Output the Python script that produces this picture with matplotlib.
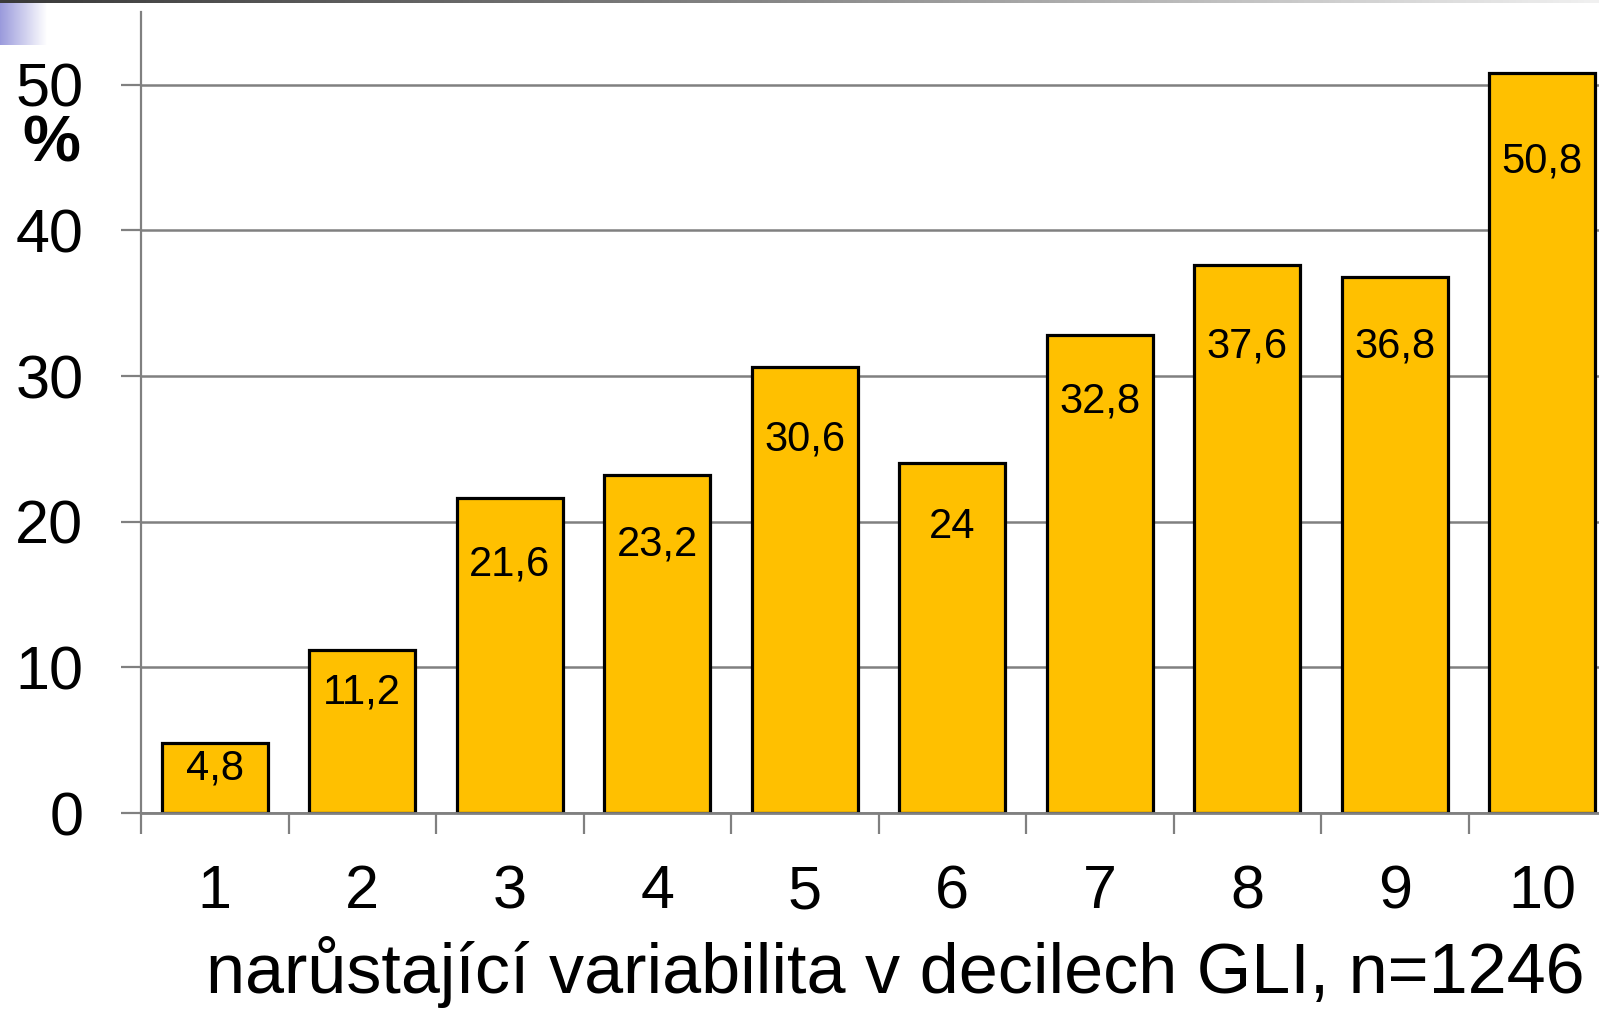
import numpy as np
import matplotlib
matplotlib.use('Agg')
import matplotlib.pyplot as plt

plt.rcParams['font.family'] = ['Liberation Sans', 'DejaVu Sans']

# data
deciles = ['1', '2', '3', '4', '5', '6', '7', '8', '9', '10']
values = [4.8, 11.2, 21.6, 23.2, 30.6, 24, 32.8, 37.6, 36.8, 50.8]
value_labels = ['4,8', '11,2', '21,6', '23,2', '30,6', '24', '32,8', '37,6', '36,8', '50,8']
# baseline of each value label, in axis units (as placed in the original slide)
label_y = [2.3, 7.5, 16.3, 17.7, 24.9, 18.9, 27.5, 31.3, 31.3, 44.0]
yticks = [0, 10, 20, 30, 40, 50]
xlabel = 'narůstající variabilita v decilech GLI, n=1246'

W, H = 1599, 1009
fig = plt.figure(figsize=(W / 100, H / 100), dpi=100)

# slide decoration: gradient line at the top and small blue square
top = fig.add_axes([0, 1 - 3 / H, 1, 3 / H])
grad = np.linspace(0, 1, 256).reshape(1, -1)
top.imshow(grad, aspect='auto', cmap=matplotlib.colors.LinearSegmentedColormap.from_list(
    'top', ['#3a3a3a', '#8a8a8a', '#f0f0f0']))
top.axis('off')
sq = fig.add_axes([0, 1 - 45 / H, 47 / W, 42 / H])
sq.imshow(grad, aspect='auto', cmap=matplotlib.colors.LinearSegmentedColormap.from_list(
    'sq', ['#9a9adc', '#ffffff']))
sq.axis('off')

ax = fig.add_axes([141 / W, 1 - 813 / H, 1475 / W, 801 / H])
x = np.arange(1, len(values) + 1)
ax.bar(x, values, width=0.72, color='#FFC000', edgecolor='black', linewidth=2.3, zorder=2)

for xi, lab, ly in zip(x, value_labels, label_y):
    ax.text(xi, ly, lab, ha='center', va='baseline', fontsize=30, color='black', zorder=3)

ax.set_xlim(0.5, len(values) + 0.5)
ax.set_ylim(0, 55)

ax.set_yticks(yticks)
ax.set_yticklabels([str(t) for t in yticks])
ax.yaxis.grid(True, color='#808080', linewidth=1.8)
ax.set_axisbelow(True)
ax.tick_params(axis='y', length=14.4, width=1.6, color='#808080', pad=27, labelsize=44)

ax.set_xticks(np.arange(0.5, len(values) + 1, 1))
ax.set_xticklabels([])
ax.set_xticks(x, minor=True)
ax.set_xticklabels(deciles, minor=True)
ax.tick_params(axis='x', which='major', length=15, width=1.6, color='#808080')
ax.tick_params(axis='x', which='minor', length=0, pad=37, labelsize=44)

for s in ['top', 'right']:
    ax.spines[s].set_visible(False)
ax.spines['left'].set_color('#808080')
ax.spines['left'].set_linewidth(1.6)
ax.spines['bottom'].set_color('#808080')
ax.spines['bottom'].set_linewidth(2)
ax.spines['bottom'].set_zorder(4)

fig.text(51 / W, 1 - 162 / H, '%', ha='center', va='baseline', fontsize=47, fontweight='bold')
fig.text(895 / W, 1 - 993 / H, xlabel, ha='center', va='baseline', fontsize=50.5)

fig.savefig('out.png', dpi=100)
